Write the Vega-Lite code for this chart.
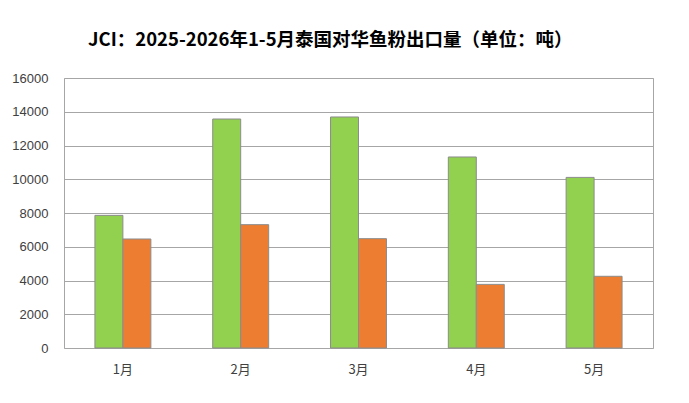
{
  "$schema": "https://vega.github.io/schema/vega-lite/v6.json",
  "autosize": {"type": "none"},
  "padding": {"left": 64, "top": 78, "right": 36, "bottom": 55},
  "width": 589,
  "height": 270,
  "background": "white",
  "title": {
    "text": "JCI：2025-2026年1-5月泰国对华鱼粉出口量（单位：吨）",
    "anchor": "start",
    "frame": "group",
    "dx": 24,
    "offset": 23,
    "font": "Noto Sans CJK SC",
    "fontSize": 18.5,
    "fontWeight": "bold",
    "color": "black"
  },
  "data": {
    "values": [
      {"month": "1月", "year": "2025", "tons": 7860},
      {"month": "1月", "year": "2026", "tons": 6460},
      {"month": "2月", "year": "2025", "tons": 13570},
      {"month": "2月", "year": "2026", "tons": 7310},
      {"month": "3月", "year": "2025", "tons": 13690},
      {"month": "3月", "year": "2026", "tons": 6480},
      {"month": "4月", "year": "2025", "tons": 11320},
      {"month": "4月", "year": "2026", "tons": 3770},
      {"month": "5月", "year": "2025", "tons": 10110},
      {"month": "5月", "year": "2026", "tons": 4250}
    ]
  },
  "mark": {"type": "bar", "stroke": "#8c8c8c", "strokeWidth": 1},
  "encoding": {
    "x": {
      "field": "month",
      "type": "nominal",
      "sort": null,
      "title": null,
      "scale": {"paddingInner": 0.525, "paddingOuter": 0.2625},
      "axis": {
        "labelAngle": 0,
        "ticks": false,
        "domain": false,
        "labelPadding": 15,
        "labelFontSize": 13,
        "labelColor": "#404040",
        "labelFont": "Noto Sans CJK SC"
      }
    },
    "xOffset": {"field": "year", "type": "nominal", "scale": {"paddingInner": 0, "paddingOuter": 0}},
    "y": {
      "field": "tons",
      "type": "quantitative",
      "title": null,
      "scale": {"domain": [0, 16000], "nice": false},
      "axis": {
        "values": [0, 2000, 4000, 6000, 8000, 10000, 12000, 14000, 16000],
        "format": "d",
        "ticks": false,
        "domain": false,
        "labelPadding": 16,
        "labelFontSize": 13,
        "labelColor": "#404040",
        "labelFont": "Liberation Sans",
        "gridColor": "#a6a6a6",
        "gridWidth": 1
      }
    },
    "color": {
      "field": "year",
      "type": "nominal",
      "scale": {"domain": ["2025", "2026"], "range": ["#92d050", "#ed7d31"]},
      "legend": null
    }
  },
  "config": {
    "view": {"stroke": "#a6a6a6", "strokeWidth": 1}
  }
}
